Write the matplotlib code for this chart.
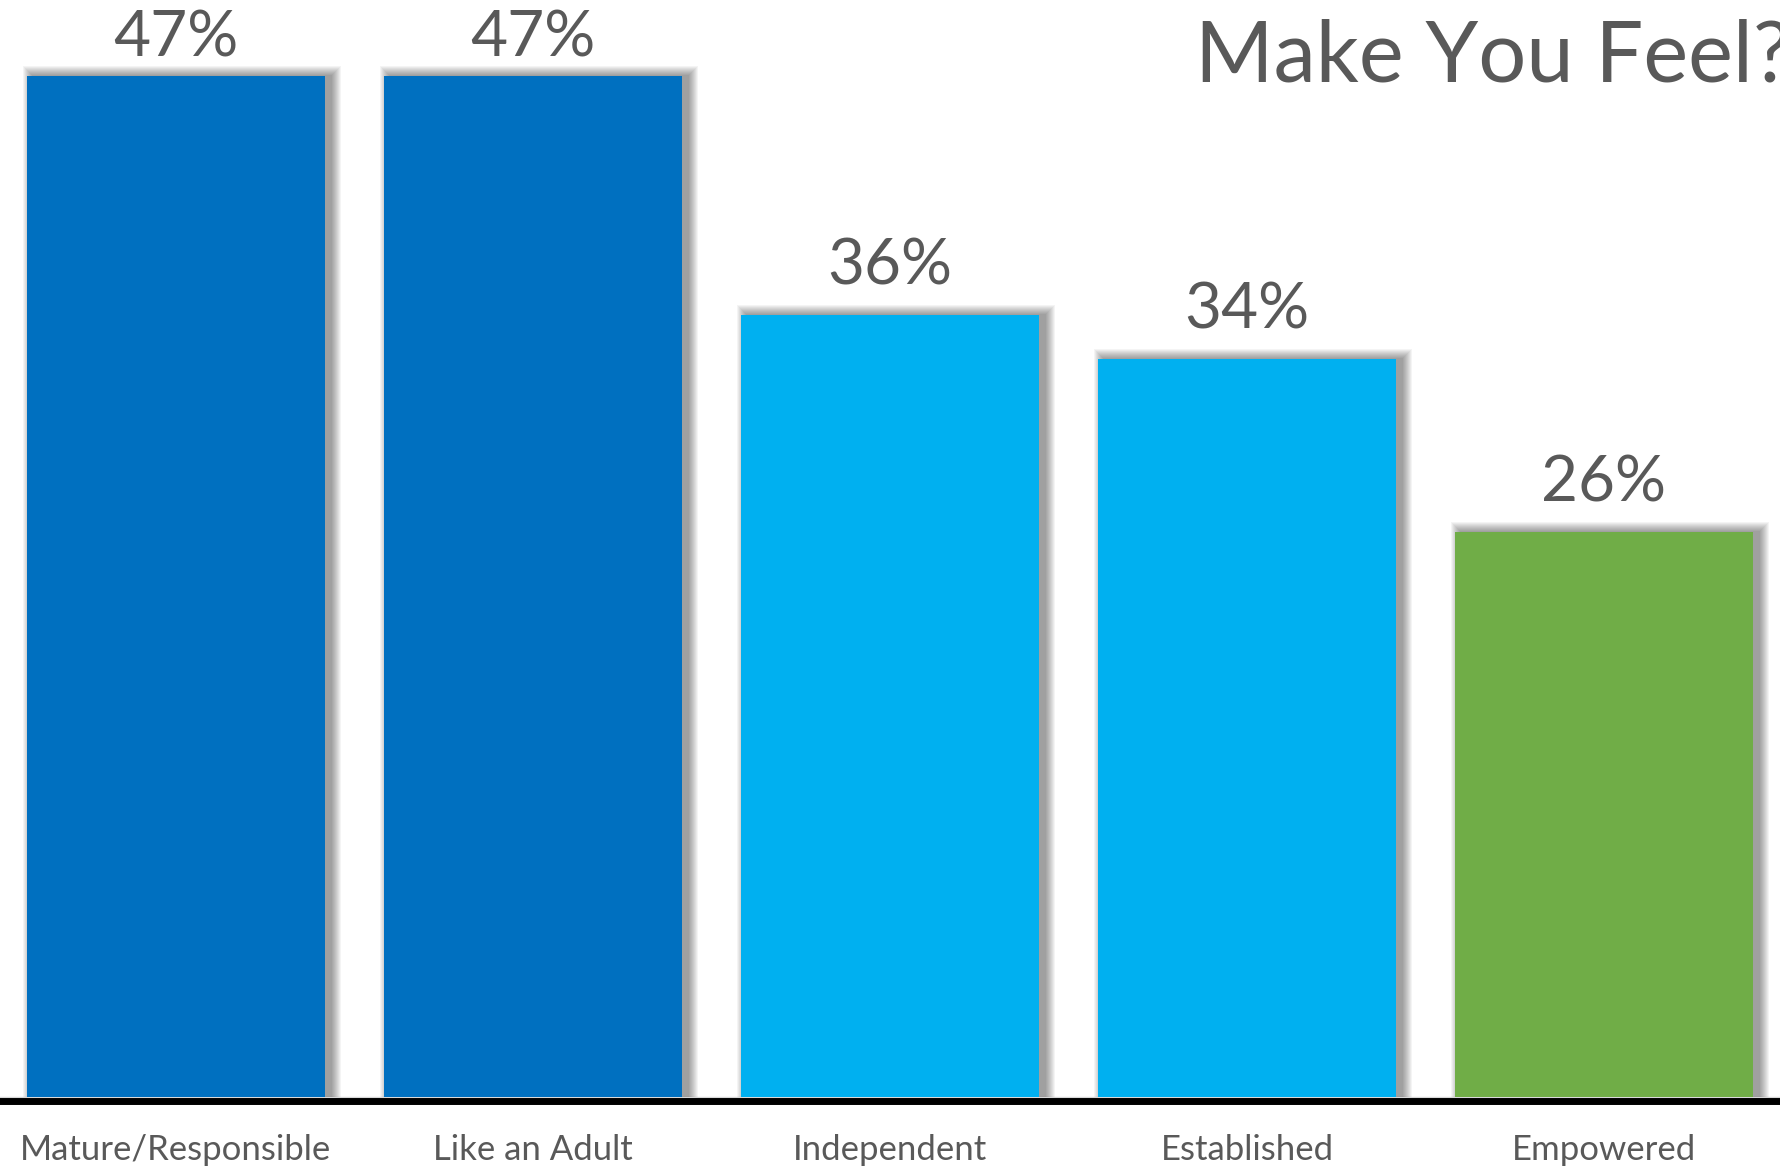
import matplotlib
matplotlib.use("Agg")
import matplotlib.pyplot as plt

# Survey results
categories = ["Mature/Responsible", "Like an Adult", "Independent", "Established", "Empowered"]
values = [47, 47, 36, 34, 26]
bar_colors = ["#0070C0", "#0070C0", "#00B0F0", "#00B0F0", "#70AD47"]
title_text = "Make You Feel?"

plt.rcParams["font.family"] = ["Lato", "DejaVu Sans"]
TEXT = "#595959"

W, H, DPI = 1781, 1168, 100
fig = plt.figure(figsize=(W / DPI, H / DPI), dpi=DPI)
ax = fig.add_axes([0, 67 / H, 1, 1 - 67 / H])

px_per_unit_y = 21.72
px_per_unit_x = 357.0
ax.set_xlim(-0.493, len(values) - 1 + 0.496)
ax.set_ylim(-4 / px_per_unit_y, -4 / px_per_unit_y + (H - 67) / px_per_unit_y)

xs = list(range(len(values)))
bar_w = 298 / px_per_unit_x

# soft drop shadow behind each bar
dx = 6 / px_per_unit_x
for r in range(10, 0, -1):
    ax.bar([x + dx for x in xs], [v + r / px_per_unit_y for v in values],
           width=bar_w + 2 * r / px_per_unit_x, color="#000000", alpha=0.045,
           linewidth=0, zorder=1)

ax.bar(xs, values, width=bar_w, color=bar_colors, linewidth=0, zorder=2)

# value labels above bars, kept inside the frame
for x, v in zip(xs, values):
    y = min(v + 1.4, 47.9)
    ax.text(x, y, f"{v}%", ha="center", va="baseline", fontsize=46,
            color=TEXT, zorder=3)

ax.axhline(0, color="#D9D9D9", linewidth=1, zorder=0)

for s in ["top", "left", "right"]:
    ax.spines[s].set_visible(False)
ax.spines["bottom"].set_color("black")
ax.spines["bottom"].set_linewidth(5)
ax.spines["bottom"].set_zorder(4)

ax.set_yticks([])
ax.set_xticks(xs)
ax.set_xticklabels(categories, fontsize=25, color=TEXT)
ax.tick_params(axis="x", length=0, pad=24)

fig.text(1195 / W, 1 - 82 / H, title_text, ha="left", va="baseline",
         fontsize=61, color=TEXT)

fig.savefig("out.png", dpi=DPI)
